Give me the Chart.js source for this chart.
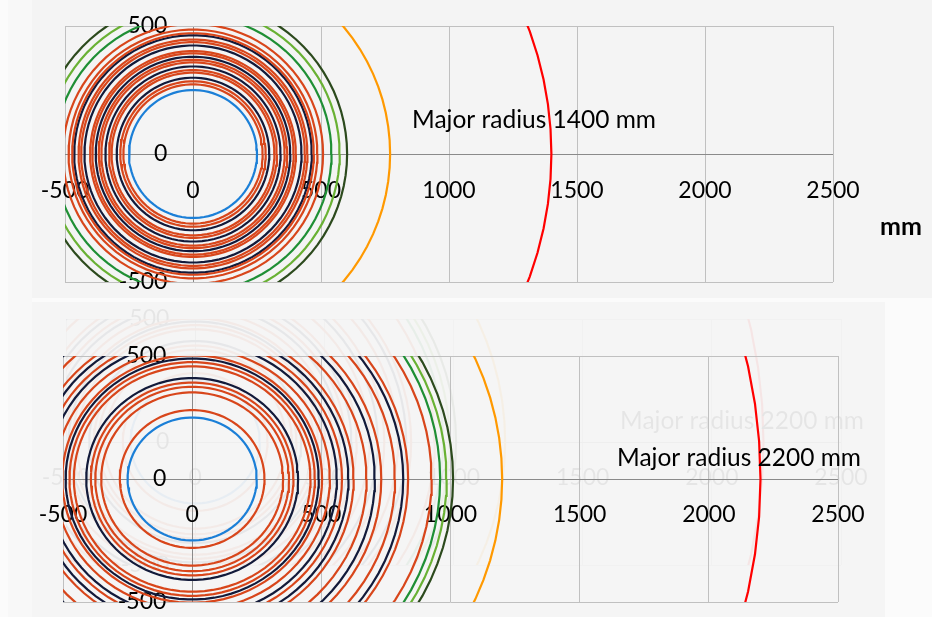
<!DOCTYPE html>
<html>
<head>
<meta charset="utf-8">
<script src="https://cdn.jsdelivr.net/npm/chart.js@4.4.1/dist/chart.umd.min.js"></script>
<style>
  body { margin: 0; width: 932px; height: 617px; background: #fbfbfb; position: relative; overflow: hidden; }
  #strip { position: absolute; left: 8px; top: 0; width: 24px; height: 617px; background: #f8f8f8; }
  #topPanel { position: absolute; left: 32px; top: 0; width: 900px; height: 298px; background: #f4f4f4; }
  #bottomPanel { position: absolute; left: 32px; top: 302px; width: 853px; height: 315px; background: #f5f5f5; }
  #ghostBox { position: absolute; left: 0; top: 302px; width: 932px; height: 315px; overflow: hidden; opacity: 0.06; }
  canvas { position: absolute; left: 0; }
  #topChart { top: 0; }
  #bottomChart { top: 302px; }
  #ghostChart { top: -37px; left: 3px; }
</style>
</head>
<body>
<div id="strip"></div>
<div id="topPanel"></div>
<div id="bottomPanel"></div>
<div id="ghostBox"><canvas id="ghostChart" width="932" height="315"></canvas></div>
<canvas id="topChart" width="932" height="298"></canvas>
<canvas id="bottomChart" width="932" height="315"></canvas>
<script>
const xTicks = [-500, 0, 500, 1000, 1500, 2000, 2500];
const yTicks = [-500, 0, 500];

// ring radii in mm, major radius 1400
const topBlue = [250];
const topRing = [272, 284, 318, 328, 358, 368, 393, 402, 437, 447, 472, 486, 508];
const topNavy = [298, 342, 380, 424, 464];
const topGreen = [541];
const topLightGreen = [573];
const topDarkGreen = [602];
const topOrange = [770];
const topMajor = [1400];

// ring radii in mm, major radius 2200
const botBlue = [250];
const botRing = [280, 352, 375, 392, 458, 475, 503, 533, 580, 625, 675, 732, 785, 836, 927];
const botNavy = [410, 490, 560, 605, 707, 817];
const botGreen = [960];
const botLightGreen = [985];
const botDarkGreen = [1010];
const botOrange = [1200];
const botMajor = [2200];

const colors = {
  blue: '#1b7fd7',
  ring: '#d8461b',
  navy: '#121a3a',
  green: '#1f8f35',
  lightGreen: '#69b134',
  darkGreen: '#2c4a1d',
  orange: '#ff9900',
  major: '#ff0000'
};

function circlePoints(r) {
  let pts = [];
  for (let a = 0; a <= 360; a += 4) {
    const t = a * Math.PI / 180;
    pts.push({ x: r * Math.cos(t), y: r * Math.sin(t) });
  }
  return pts;
}

function ringSets(radii, color) {
  return radii.map(r => ({
    data: circlePoints(r),
    showLine: true,
    borderColor: color,
    borderWidth: 2.2,
    pointRadius: 0,
    tension: 0
  }));
}

const notePlugin = {
  id: 'note',
  afterDraw(chart, args, opts) {
    const ctx = chart.ctx;
    ctx.save();
    ctx.fillStyle = '#000';
    ctx.textBaseline = 'alphabetic';
    ctx.font = '24.5px Lato';
    ctx.fillText(opts.text, opts.x, opts.y);
    if (opts.unit) {
      ctx.font = 'bold 25px Lato';
      ctx.fillText(opts.unit, opts.ux, opts.uy);
    }
    ctx.restore();
  }
};

function gridColor(c) {
  return c.tick && c.tick.value === 0 ? '#8a8a8a' : '#c0c0c0';
}

function makeChart(id, datasets, padding, xPad, note) {
  const tickFont = { family: 'Lato', size: 23 };
  const config = {
    type: 'scatter',
    data: { datasets: datasets },
    options: {
      responsive: false,
      animation: false,
      layout: { padding: padding },
      plugins: {
        legend: { display: false },
        tooltip: { enabled: false },
        note: note
      },
      scales: {
        x: {
          type: 'linear',
          min: -500,
          max: 2500,
          position: { y: 0 },
          afterBuildTicks: s => { s.ticks = xTicks.map(v => ({ value: v })); },
          ticks: { font: tickFont, color: '#000', padding: xPad, maxRotation: 0, autoSkip: false, callback: v => String(v) },
          grid: { color: gridColor, drawTicks: false, lineWidth: 1 },
          border: { display: false }
        },
        y: {
          type: 'linear',
          min: -500,
          max: 500,
          position: { x: -100 },
          afterBuildTicks: s => { s.ticks = yTicks.map(v => ({ value: v })); },
          ticks: { font: tickFont, color: '#000', padding: 0, autoSkip: false, callback: v => String(v) },
          grid: { color: gridColor, drawTicks: false, lineWidth: 1 },
          border: { display: false }
        }
      }
    },
    plugins: [notePlugin]
  };
  return new Chart(document.getElementById(id), config);
}

function buildTop() {
  const sets = [].concat(
    ringSets(topBlue, colors.blue),
    ringSets(topRing, colors.ring),
    ringSets(topNavy, colors.navy),
    ringSets(topGreen, colors.green),
    ringSets(topLightGreen, colors.lightGreen),
    ringSets(topDarkGreen, colors.darkGreen),
    ringSets(topOrange, colors.orange),
    ringSets(topMajor, colors.major)
  );
  makeChart('topChart', sets, { left: 65, right: 99, top: 26, bottom: 16 }, 23,
    { text: 'Major radius 1400 mm', x: 412, y: 128, unit: 'mm', ux: 880, uy: 235 });
}

function bottomSets() {
  return [].concat(
    ringSets(botBlue, colors.blue),
    ringSets(botRing, colors.ring),
    ringSets(botNavy, colors.navy),
    ringSets(botGreen, colors.green),
    ringSets(botLightGreen, colors.lightGreen),
    ringSets(botDarkGreen, colors.darkGreen),
    ringSets(botOrange, colors.orange),
    ringSets(botMajor, colors.major)
  );
}

function buildBottom() {
  // faint leftover of the slide behind the lower chart
  makeChart('ghostChart', bottomSets(), { left: 63, right: 94, top: 54, bottom: 15 }, 22,
    { text: 'Major radius 2200 mm', x: 617, y: 164 });
  makeChart('bottomChart', bottomSets(), { left: 63, right: 94, top: 54, bottom: 15 }, 22,
    { text: 'Major radius 2200 mm', x: 617, y: 164 });
}

document.fonts.load('23px Lato').then(() => document.fonts.load('bold 25px Lato')).then(() => {
  buildTop();
  buildBottom();
});
</script>
</body>
</html>
